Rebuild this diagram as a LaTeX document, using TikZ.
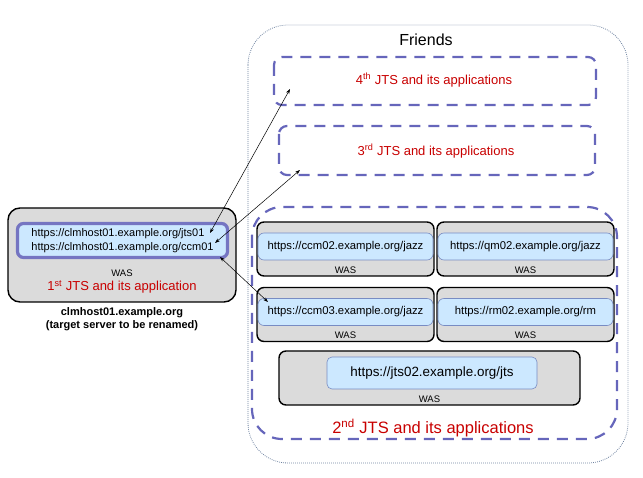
\documentclass[tikz,border=0pt]{standalone}
\usepackage{fontspec}
\setmainfont{Liberation Sans}
\usetikzlibrary{arrows.meta,positioning,calc}
\definecolor{wasgray}{RGB}{219,219,219}
\definecolor{urlblue}{RGB}{204,232,255}
\definecolor{bandedge}{RGB}{120,140,195}
\definecolor{groupblue}{RGB}{102,102,187}
\definecolor{friendedge}{RGB}{110,130,160}
\definecolor{jtsred}{RGB}{200,0,0}
\tikzset{
  wasbox/.style={draw=black,line width=1.4pt,fill=wasgray,rounded corners=7pt,minimum width=177pt,minimum height=54pt,inner sep=0pt},
  urlband/.style={draw=bandedge,line width=0.6pt,fill=urlblue,rounded corners=6pt,minimum width=175pt,minimum height=27pt,inner sep=0pt,font=\fontsize{11.3}{12}\selectfont},
  waslabel/.style={font=\fontsize{9.5}{10}\selectfont,inner sep=0pt},
  jtsgroup/.style={draw=groupblue,line width=2.2pt,dash pattern=on 11pt off 8pt,inner sep=0pt},
  jtstext/.style={text=jtsred,inner sep=0pt},
  twolink/.style={{Stealth[length=5pt,width=3.5pt]}-{Stealth[length=5pt,width=3.5pt]},line width=0.5pt}
}
\newcommand{\wasband}[4]{%
  \node[wasbox] (#1) at (#2,#3) {};
  \node[urlband] (#1url) at ($(#1.center)+(0,-2.5)$) {#4};
  \node[waslabel] at ($(#1.south)+(0,-6.5)$) {WAS};
}
\begin{document}
\begin{tikzpicture}[x=1pt,y=-1pt]
  \useasboundingbox (0,0) rectangle (643,478);
  % friends
  \draw[friendedge,line width=0.8pt,dash pattern=on 0.8pt off 1.2pt,rounded corners=40pt] (248,25) rectangle (628,463);
  \node[font=\fontsize{16}{17}\selectfont,inner sep=0pt] (friends) at (426,40) {Friends};
  % 4th and 3rd JTS
  \draw[jtsgroup,rounded corners=8pt] (274,57) rectangle (596,105);
  \node[jtstext,font=\fontsize{13}{14}\selectfont] (jts4) at (434,80) {4\textsuperscript{th} JTS and its applications};
  \coordinate (jts4end) at (290,89);
  \draw[jtsgroup,rounded corners=8pt] (279,126) rectangle (595,175);
  \node[jtstext,font=\fontsize{13}{14}\selectfont] (jts3) at (436,151) {3\textsuperscript{rd} JTS and its applications};
  \coordinate (jts3end) at (300,170);
  % 2nd JTS
  \draw[jtsgroup,rounded corners=30pt] (252,207) rectangle (617,439);
  \node[jtstext,font=\fontsize{16.5}{17}\selectfont] (jts2) at (433,428) {2\textsuperscript{nd} JTS and its applications};
  \wasband{ccm02}{345.5}{249}{https://ccm02.example.org/jazz}
  \wasband{qm02}{525.5}{249}{https://qm02.example.org/jazz}
  \wasband{ccm03}{345.5}{314.5}{https://ccm03.example.org/jazz}
  \wasband{rm02}{525.5}{314.5}{https://rm02.example.org/rm}
  \node[wasbox,minimum width=301pt] (jts02) at (429.5,378) {};
  \node[urlband,minimum width=210pt,minimum height=32pt,rounded corners=5pt,font=\fontsize{13.4}{14}\selectfont] (jts02url) at (432,373) {https://jts02.example.org/jts};
  \node[waslabel] at ($(jts02.south)+(0,-6.5)$) {WAS};
  \coordinate (ccm03end) at (268,302);
  % 1st JTS (target)
  \node[wasbox,minimum width=228pt,minimum height=94pt,rounded corners=12pt] (clm01) at (122,255) {};
  \node[draw=groupblue!90,line width=3.2pt,fill=urlblue,rounded corners=6pt,minimum width=210pt,minimum height=34pt,inner sep=0pt,align=left,font=\fontsize{11}{14}\selectfont] (clm01url) at (122.5,240.5)
    {https://clmhost01.example.org/jts01\\https://clmhost01.example.org/ccm01};
  \node[waslabel] (clm01was) at (122,273) {WAS};
  \node[jtstext,font=\fontsize{13}{14}\selectfont] (jts1) at (122,287) {1\textsuperscript{st} JTS and its application};
  \node[font=\bfseries\fontsize{11}{13}\selectfont,align=center,inner sep=0pt] (target) at (122,319.5)
    {clmhost01.example.org\\(target server to be renamed)};
  \coordinate (jts01end) at (210,233);
  \coordinate (ccm01end) at (215,243);
  \coordinate (clm01end) at (220,257);
  % links
  \draw[twolink] (jts01end) -- (jts4end);
  \draw[twolink] (ccm01end) -- (jts3end);
  \draw[twolink] (clm01end) -- (ccm03end);
\end{tikzpicture}
\end{document}
